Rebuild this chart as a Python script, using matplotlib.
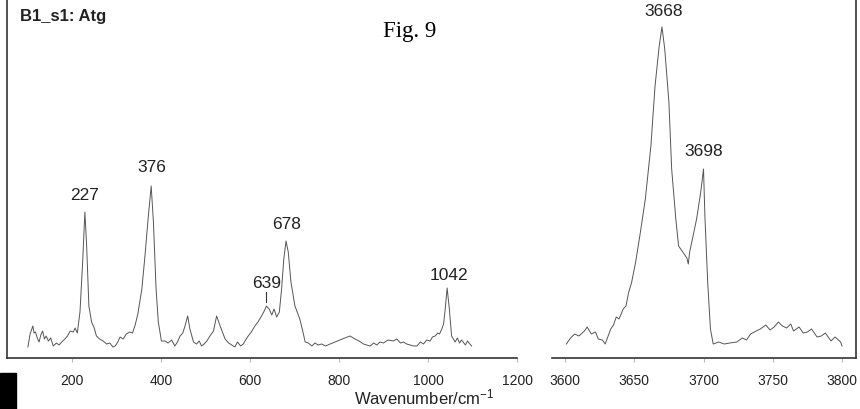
import matplotlib
matplotlib.use("Agg")
import matplotlib.pyplot as plt
from matplotlib.patches import Rectangle

plt.rcParams['font.family'] = ['Liberation Sans', 'DejaVu Sans']
plt.rcParams['mathtext.default'] = 'regular'

# low wavenumber region (cm-1, intensity in arb. units)
wn_low = [101, 106, 112, 115, 118, 122, 126, 130, 134, 138, 142, 147, 152, 158, 165,
          171, 177, 184, 190, 196, 203, 207, 212, 218, 224, 229,
          233, 238, 244, 250, 255, 262, 270, 278, 285, 292, 297, 303, 308, 315, 322,
          330, 336, 342, 348, 357, 364, 371, 378, 383, 389,
          394, 401, 409, 416, 424, 431, 437, 443, 449, 454, 460, 465, 473, 480, 486,
          491, 497, 503, 510, 518, 525, 533, 544, 552, 559,
          566, 572, 579, 585, 590, 596, 603, 611, 618, 626, 632, 637, 643, 649, 654,
          660, 666, 671, 676, 681, 686, 692,
          701, 712, 718, 724, 731, 739, 746, 753, 761, 770, 780, 791, 802, 813, 825,
          836, 845, 855, 862, 870, 878, 885, 892, 900, 910, 922, 930, 938, 945, 952,
          960, 968, 975, 983, 990, 997,
          1005, 1010, 1016, 1022, 1026, 1031, 1035, 1038, 1043, 1048, 1053, 1057, 1061,
          1066, 1071, 1075, 1079, 1084, 1089, 1094, 1098]
int_low = [11, 24, 32, 25, 26, 20, 16, 23, 27, 19, 22, 17, 20, 12, 15,
           13, 16, 19, 22, 27, 26, 30, 25, 46, 96, 146,
           112, 52, 36, 30, 22, 19, 17, 14, 15, 11, 12, 16, 21, 19, 24,
           26, 25, 33, 44, 69, 102, 139, 172, 136, 69,
           36, 17, 17, 15, 18, 12, 16, 22, 25, 32, 42, 29, 16, 14, 17,
           12, 14, 17, 22, 27, 42, 32, 19, 15, 13,
           11, 16, 12, 14, 18, 22, 26, 32, 36, 42, 47, 52, 49, 43, 49,
           41, 46, 69, 99, 117, 106, 76,
           52, 39, 28, 16, 15, 12, 15, 13, 14, 12, 14, 16, 18, 20, 22,
           19, 17, 14, 13, 12, 15, 13, 16, 15, 18, 17, 19, 15, 16, 14,
           13, 12, 12, 16, 14, 18,
           17, 21, 22, 25, 24, 29, 34, 46, 70, 49, 22, 19, 16,
           20, 15, 18, 16, 13, 17, 14, 12]

# OH stretching region
wn_high = [3601, 3604, 3607, 3610, 3614, 3616, 3619, 3622, 3624, 3627, 3629, 3633,
           3635, 3637, 3639, 3642, 3644, 3646, 3648, 3651, 3654,
           3658, 3662, 3665, 3668, 3670, 3672, 3675, 3677, 3680, 3682, 3684, 3686, 3688, 3689,
           3690, 3692, 3695, 3698, 3700, 3701, 3703, 3705, 3707, 3711, 3715, 3719, 3724,
           3728, 3731, 3734, 3738, 3741, 3745, 3748, 3751, 3754, 3757, 3760, 3763, 3765,
           3769, 3772, 3775, 3778, 3782, 3785, 3788, 3792, 3795, 3799, 3800]
int_high = [14, 20, 24, 22, 27, 31, 24, 26, 19, 18, 14, 29,
            33, 41, 39, 49, 52, 66, 75, 96, 122,
            159, 212, 272, 312, 331, 309, 256, 189, 139, 112, 108, 104, 100, 94,
            106, 119, 139, 166, 189, 142, 76, 29, 14, 16, 14, 15, 16,
            20, 18, 24, 27, 29, 33, 28, 31, 36, 32, 30, 34, 27,
            31, 25, 26, 29, 21, 22, 25, 17, 21, 16, 12]

peaks_low = ['227', '376', '639', '678', '1042']
peaks_low_pos = [229, 380, 637, 682, 1046]
peaks_low_y = [163, 191, 75, 134, 83]
peaks_high = ['3668', '3698']
peaks_high_pos = [3671, 3700]
peaks_high_y = [347, 207]

fig = plt.figure(figsize=(8.6, 4.1), dpi=100)
ax1 = fig.add_axes([7/860, 51/410, 510/860, 359/410])
ax2 = fig.add_axes([552/860, 51/410, 304/860, 359/410])

line_col = '#555555'
ax1.plot(wn_low, int_low, color=line_col, lw=0.7)
ax2.plot(wn_high, int_high, color=line_col, lw=0.7)

ax1.set_xlim(54, 1200)
ax2.set_xlim(3590.6, 3810.1)
for ax in (ax1, ax2):
    ax.set_ylim(0, 359)
    ax.set_yticks([])
    ax.spines['top'].set_visible(False)
    for s in ax.spines.values():
        s.set_color('#333333')
        s.set_linewidth(1.2)
    ax.tick_params(axis='x', direction='out', length=3, width=0.8, color='#bbbbbb',
                   labelsize=10, pad=8, labelcolor='#222222')
    ax.patch.set_alpha(0)
ax1.spines['right'].set_visible(False)
ax2.spines['left'].set_visible(False)

ax1.set_xticks([200, 400, 600, 800, 1000, 1200])
ax2.set_xticks([3600, 3650, 3700, 3750, 3800])

for lab, x, y in zip(peaks_low, peaks_low_pos, peaks_low_y):
    ax1.text(x, y, lab, ha='center', va='center', fontsize=12.5, color='#222222')
for lab, x, y in zip(peaks_high, peaks_high_pos, peaks_high_y):
    ax2.text(x, y, lab, ha='center', va='center', fontsize=12.5, color='#222222')
# small marker line under 639
ax1.plot([637, 637], [359 - 293, 359 - 303], color='#333333', lw=0.8)

fig.text(20/860, 1 - 16/410, 'B1_s1: Atg', fontsize=12, fontweight='bold',
         ha='left', va='center', color='#222222')
fig.text(410/860, 1 - 32/410, 'Fig. 9', fontsize=16.5, family='Liberation Serif',
         ha='center', va='center')
fig.text(424/860, 1 - 397/410, 'Wavenumber/cm$^{-1}$', fontsize=12,
         ha='center', va='center', color='#222222')

fig.patches.append(Rectangle((0, 0), 16/860, 36/410, transform=fig.transFigure,
                             color='black', figure=fig))

fig.savefig('out.png', dpi=100)
